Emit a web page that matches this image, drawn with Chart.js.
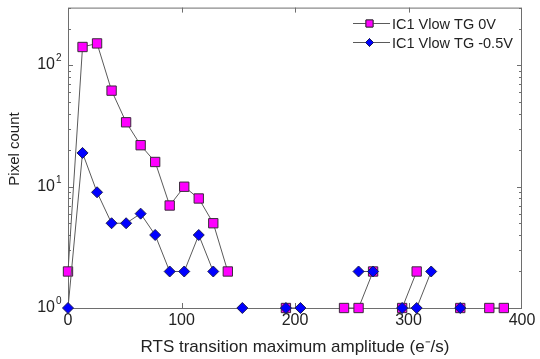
<!DOCTYPE html>
<html lang="en">
<head>
<meta charset="UTF-8">
<title>RTS amplitude histogram</title>
<script src="https://cdn.jsdelivr.net/npm/chart.js@4/dist/chart.umd.min.js"></script>
<style>
  html, body { margin: 0; padding: 0; background: #fff; }
  #wrap { width: 540px; height: 359px; }
</style>
</head>
<body>
<div id="wrap"><canvas id="chart"></canvas></div>
<script>
// bin centres (e-/s) and pixel counts; null = empty bin (not shown on log axis)
const amplitude = [0, 12.8, 25.6, 38.4, 51.2, 64, 76.8, 89.6, 102.4, 115.2, 128, 140.8, 153.6, 166.4, 179.2,
                   192, 204.8, 217.6, 230.4, 243.2, 256, 268.8, 281.6, 294.4, 307.2, 320, 332.8, 345.6, 358.4, 371.2, 384];
const countTG0V = [2, 142, 152, 62, 34, 22, 16, 7, 10, 8, 5, 2, null, null, null,
                   1, null, null, null, 1, 1, 2, null, 1, 2, null, null, 1, null, 1, 1];
const countTGm05V = [1, 19, 9, 5, 5, 6, 4, 2, 2, 4, 2, null, 1, null, null,
                     1, 1, null, null, null, 2, 2, null, 1, 1, 2, null, 1, null, null, null];

const seriesNames = ['IC1 Vlow TG 0V', 'IC1 Vlow TG -0.5V'];
const xTicks = [0, 100, 200, 300, 400];
const yTicks = [1, 10, 100];
const yTickExp = ['0', '1', '2'];

const lineCol = '#5a5a5a';
const frameCol = '#6e6e6e';
const textCol = '#222';
const fontFam = '"Liberation Sans", Arial, sans-serif';

function toPoints(vals) {
    return amplitude.map((a, i) => ({ x: a, y: vals[i] }));
}

// box, inward tick marks, 10^n labels, y title and the legend, drawn matlab style
const framePlugin = {
    id: 'frame',
    beforeDatasetsDraw(chart) {
        const { ctx, chartArea: a, scales } = chart;
        const xs = scales.x, ys = scales.y;
        ctx.save();
        ctx.strokeStyle = frameCol;
        ctx.lineWidth = 1;
        ctx.strokeRect(a.left + 0.5, a.top + 0.5, a.right - a.left - 1, a.bottom - a.top);
        ctx.beginPath();
        xTicks.slice(1, -1).forEach(v => {
            const px = Math.round(xs.getPixelForValue(v)) + 0.5;
            ctx.moveTo(px, a.bottom); ctx.lineTo(px, a.bottom - 5);
            ctx.moveTo(px, a.top); ctx.lineTo(px, a.top + 5);
        });
        for (let d = 1; d <= 100; d *= 10) {
            for (let m = 1; m <= 9; m++) {
                const v = d * m;
                if (v > 300) break;
                const py = Math.round(ys.getPixelForValue(v)) + 0.5;
                const len = m === 1 ? 5 : 3;
                ctx.moveTo(a.left, py); ctx.lineTo(a.left + len, py);
                ctx.moveTo(a.right, py); ctx.lineTo(a.right - len, py);
            }
        }
        ctx.stroke();

        // y tick labels: base 10 with raised exponent
        ctx.fillStyle = textCol;
        yTicks.forEach((v, i) => {
            const py = ys.getPixelForValue(v);
            ctx.font = '16px ' + fontFam;
            ctx.textAlign = 'right';
            ctx.textBaseline = 'alphabetic';
            ctx.fillText('10', a.left - 13, py + 4);
            ctx.font = '10px ' + fontFam;
            ctx.textAlign = 'left';
            ctx.fillText(yTickExp[i], a.left - 12, py - 4);
        });

        // y axis title
        ctx.translate(15, 149);
        ctx.rotate(-Math.PI / 2);
        ctx.font = '15px ' + fontFam;
        ctx.textAlign = 'center';
        ctx.textBaseline = 'middle';
        ctx.fillText('Pixel count', 0, 0);
        ctx.restore();
    },
    afterDraw(chart) {
        const { ctx } = chart;
        const ds = chart.data.datasets;
        const legendRadius = [5, 4];
        ctx.save();
        [0, 1].forEach(i => {
            const y = 23.5 + i * 19;
            ctx.strokeStyle = lineCol;
            ctx.lineWidth = 1;
            ctx.beginPath();
            ctx.moveTo(353, y); ctx.lineTo(390, y);
            ctx.stroke();
            Chart.helpers.drawPoint(ctx, {
                pointStyle: ds[i].pointStyle,
                radius: legendRadius[i],
                borderWidth: 1
            }, 369.5, y);
            ctx.fillStyle = ds[i].pointBackgroundColor;
            ctx.strokeStyle = ds[i].pointBorderColor;
            ctx.fill();
            ctx.stroke();
            ctx.fillStyle = textCol;
            ctx.font = '14.5px ' + fontFam;
            ctx.textBaseline = 'middle';
            ctx.fillText(seriesNames[i], 392, y + 1);
        });
        ctx.restore();
    }
};

new Chart(document.getElementById('chart'), {
    type: 'line',
    data: {
        datasets: [
            {
                label: seriesNames[0],
                data: toPoints(countTG0V),
                borderColor: lineCol,
                borderWidth: 1,
                pointStyle: 'rect',
                pointRadius: 6.6,
                pointBackgroundColor: '#ff00ff',
                pointBorderColor: '#3a2a3a',
                pointBorderWidth: 1,
                spanGaps: false,
                clip: false,
                order: 2
            },
            {
                label: seriesNames[1],
                data: toPoints(countTGm05V),
                borderColor: lineCol,
                borderWidth: 1,
                pointStyle: 'rectRot',
                pointRadius: 5.5,
                pointBackgroundColor: '#0000ff',
                pointBorderColor: '#1a1a55',
                pointBorderWidth: 1,
                spanGaps: false,
                clip: false,
                order: 1
            }
        ]
    },
    options: {
        responsive: true,
        maintainAspectRatio: false,
        animation: false,
        layout: { padding: { left: 0, right: 18, top: 5, bottom: 0 } },
        plugins: {
            legend: { display: false },
            tooltip: { enabled: false }
        },
        scales: {
            x: {
                type: 'linear',
                min: 0,
                max: 400,
                afterBuildTicks: s => { s.ticks = xTicks.map(v => ({ value: v })); },
                afterFit: s => { s.height = 51; },
                grid: { display: false, drawTicks: false },
                border: { display: false },
                ticks: {
                    padding: 3,
                    maxRotation: 0,
                    color: textCol,
                    font: { family: fontFam, size: 16 }
                },
                title: {
                    display: true,
                    text: 'RTS transition maximum amplitude (e\u207B/s)',
                    color: textCol,
                    font: { family: fontFam, size: 17 },
                    padding: { top: 0, bottom: 1 }
                }
            },
            y: {
                type: 'logarithmic',
                min: 1,
                max: 300,
                afterBuildTicks: s => { s.ticks = yTicks.map(v => ({ value: v })); },
                afterFit: s => { s.width = 68; },
                grid: { display: false, drawTicks: false },
                border: { display: false },
                ticks: { display: false },
                title: { display: false }
            }
        }
    },
    plugins: [framePlugin]
});
</script>
</body>
</html>
